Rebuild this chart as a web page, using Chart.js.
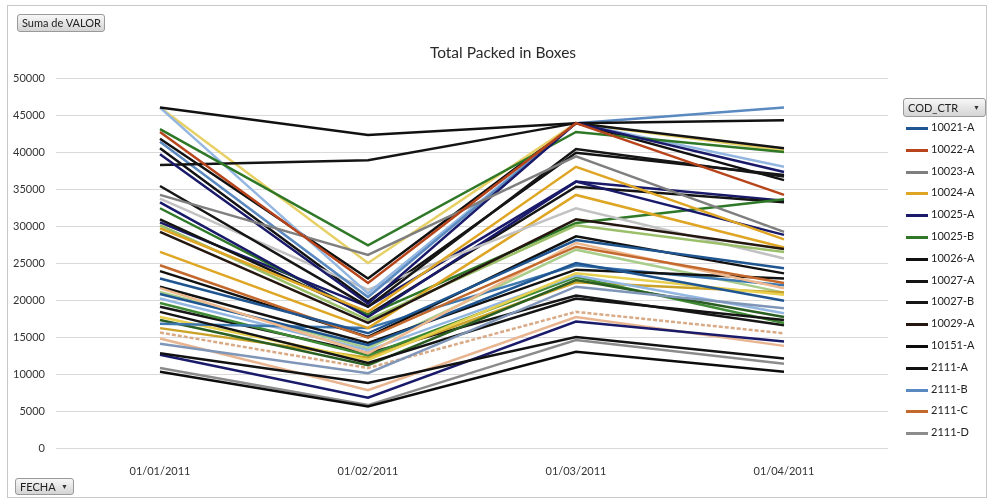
<!DOCTYPE html>
<html>
<head>
<meta charset="utf-8">
<script src="https://cdn.jsdelivr.net/npm/chart.js@4/dist/chart.umd.min.js"></script>
<style>
  html, body { margin: 0; padding: 0; background: #fff; }
  body { width: 988px; height: 503px; position: relative; overflow: hidden; font-family: Lato, "Liberation Sans", sans-serif; }
  #frame { position: absolute; left: 7px; top: 5px; width: 980px; height: 493px; border: 1px solid #c8c8c8; box-sizing: border-box; }
  #wrap { position: absolute; left: 0; top: 0; width: 988px; height: 503px; }
  .btn { position: absolute; box-sizing: border-box; border: 1px solid #9a9a9a; border-radius: 3px;
         background: linear-gradient(#f7f7f7, #d4d4d4); font-size: 11px; color: #222; line-height: 16px; padding-left: 4px; }
  .btn .arr { position: absolute; right: 5px; top: 0; font-size: 7px; color: #333; }
  #title { position: absolute; left: 0; width: 1006px; top: 43px; text-align: center; font-size: 15.5px; color: #2a2a2a; }
  #legend { position: absolute; left: 906px; top: 118px; }
  .item { position: absolute; left: 0; height: 20px; white-space: nowrap; font-size: 11px; color: #222; }
  .item .sw { position: absolute; left: 0; top: 9px; width: 22px; height: 3px; }
  .item .tx { position: absolute; left: 25px; top: 2px; }
</style>
</head>
<body>
<div id="frame"></div>
<div id="wrap"><canvas id="c" width="988" height="503"></canvas></div>
<div class="btn" style="left:17px;top:14px;width:88px;height:18px;">Suma de VALOR</div>
<div id="title">Total Packed in Boxes</div>
<div class="btn" style="left:903px;top:98px;width:83px;height:19px;line-height:17px;">COD_CTR<span class="arr">&#9660;</span></div>
<div class="btn" style="left:15px;top:478px;width:59px;height:17px;line-height:15px;">FECHA<span class="arr">&#9660;</span></div>
<div id="legend"></div>
<script>
// Months on the category axis
const fechas = ['01/01/2011', '01/02/2011', '01/03/2011', '01/04/2011'];

// Value axis ticks
const yTicks = [0, 5000, 10000, 15000, 20000, 25000, 30000, 35000, 40000, 45000, 50000];

// Container codes (series names)
const codigos = [
  '10021-A', '10022-A', '10023-A', '10024-A', '10025-A', '10025-B', '10026-A', '10027-A',
  '10027-B', '10029-A', '10151-A', '2111-A', '2111-B', '2111-C', '2111-D', '2111-E',
  '2112-A', '2112-B', '2112-C', '2113-A', '2113-B', '2114-A', '2114-B', '2115-A',
  '2115-B', '2116-A', '2116-B', '2117-A', '2117-B', '2118-A', '2118-B', '2119-A',
  '2119-B', '2120-A', '2120-B', '2121-A', '2121-B', '2122-A', '2122-B', '2123-A',
  '2123-B', '2124-A', '2124-B'
];

// Sum of VALOR per container, one value per month (Jan, Feb, Mar, Apr)
const v10021A = [22900, 15500, 28100, 24300];
const v10022A = [42700, 22300, 43900, 34200];
const v10023A = [34200, 26100, 39400, 29200];
const v10024A = [29700, 18400, 38000, 28200];
const v10025A = [39700, 19500, 43900, 37300];
const v10025B = [43100, 27400, 42700, 40000];
const v10026A = [46000, 42300, 43900, 44300];
const v10027A = [38250, 38900, 43900, 40500];
const v10027B = [35400, 19100, 40400, 36700];
const v10029A = [29200, 16900, 30900, 26900];
const v10151A = [10300, 5600, 13000, 10300];
const v2111A = [12800, 8800, 15000, 12100];
const v2111B = [41400, 20400, 43900, 46000];
const v2111C = [24700, 14900, 27200, 22300];
const v2111D = [10800, 5800, 14600, 11400];
const v2111E = [46000, 20900, 43900, 38000];
const v2112A = [30100, 17300, 30100, 26500];
const v2112B = [21600, 12800, 27700, 21600];
const v2112C = [33700, 21400, 32400, 25600];
const v2113A = [46000, 25000, 43900, 40200];
const v2113B = [20800, 13900, 25000, 19900];
const v2114A = [12600, 6800, 17100, 14400];
const v2114B = [14100, 10100, 21800, 18900];
const v2115A = [26500, 16200, 34200, 27100];
const v2115B = [33200, 17700, 36000, 28800];
const v2116A = [32400, 18000, 30400, 33600];
const v2116B = [41800, 22900, 43900, 36200];
const v2117A = [40500, 19800, 39900, 36900];
const v2117B = [30900, 18000, 35300, 33200];
const v2118A = [23900, 15000, 28600, 23600];
const v2118B = [21800, 14200, 24100, 22900];
const v2119A = [18400, 11500, 20200, 17300];
const v2119B = [16800, 16200, 24700, 22000];
const v2120A = [15600, 10800, 18400, 15500];
const v2120B = [14800, 7800, 17700, 13800];
const v2121A = [17700, 11900, 23600, 20700];
const v2121B = [17300, 11200, 22700, 17700];
const v2122A = [20200, 13200, 23300, 18200];
const v2122B = [19600, 12500, 23100, 16900];
const v2123A = [16200, 12200, 22400, 21000];
const v2123B = [21100, 13500, 26800, 21000];
const v2124A = [19100, 12800, 20600, 16600];
const v2124B = [30500, 19100, 36000, 33400];

const valores = [
  v10021A, v10022A, v10023A, v10024A, v10025A, v10025B, v10026A, v10027A,
  v10027B, v10029A, v10151A, v2111A, v2111B, v2111C, v2111D, v2111E,
  v2112A, v2112B, v2112C, v2113A, v2113B, v2114A, v2114B, v2115A,
  v2115B, v2116A, v2116B, v2117A, v2117B, v2118A, v2118B, v2119A,
  v2119B, v2120A, v2120B, v2121A, v2121B, v2122A, v2122B, v2123A,
  v2123B, v2124A, v2124B
];

// Line colours, in series order
const colores = [
  '#1f5591', '#b8441c', '#7f7f7f', '#dfa524', '#1a1a6b', '#2e7827', '#111111', '#141414',
  '#161616', '#241710', '#0c0c0c', '#121212', '#5b8ac0', '#c4692d', '#8c8c8c', '#93b7e0',
  '#9cc06a', '#efb98f', '#c2c2c2', '#e7d066', '#1f5591', '#1a1a6b', '#7f96b8', '#dfa524',
  '#1a1a6b', '#2e7827', '#111111', '#131313', '#151515', '#111111', '#121212', '#141414',
  '#3d78b0', '#d9aa86', '#e8b590', '#e7cf4f', '#2b5e22', '#93b7e0', '#3f8a34', '#c9a227',
  '#a9cd8a', '#171717', '#1a1a6b'
];

// Series drawn with a broken stroke
const dashed = ['2120-A'];

const datasets = codigos.map((name, i) => ({
  label: name,
  data: valores[i],
  borderColor: colores[i],
  backgroundColor: colores[i],
  borderWidth: 2.5,
  borderDash: dashed.includes(name) ? [4, 2] : [],
  pointRadius: 0,
  tension: 0,
  fill: false
}));

const chart = new Chart(document.getElementById('c'), {
  type: 'line',
  data: { labels: fechas, datasets: datasets },
  options: {
    responsive: false,
    animation: false,
    layout: { padding: { left: 0, right: 100, top: 78, bottom: 0 } },
    plugins: { legend: { display: false }, tooltip: { enabled: false }, title: { display: false } },
    scales: {
      x: {
        offset: true,
        grid: { display: false },
        border: { display: false },
        ticks: { color: '#333', font: { family: 'Lato', size: 11 }, padding: 9 },
        afterFit: (s) => { s.height = 55; }
      },
      y: {
        min: 0,
        max: 50000,
        afterBuildTicks: (s) => { s.ticks = yTicks.map(v => ({ value: v })); },
        grid: { color: '#d9d9d9', lineWidth: 1, drawTicks: false },
        border: { display: false },
        ticks: { color: '#333', font: { family: 'Lato', size: 11 }, padding: 11, callback: (v) => String(v) },
        afterFit: (s) => { s.width = 56; }
      }
    }
  }
});

// Legend for the first entries of the field list
const legend = document.getElementById('legend');
chart.data.datasets.slice(0, 15).forEach((ds, i) => {
  const it = document.createElement('div');
  it.className = 'item';
  it.style.top = (i * 21.8) + 'px';
  it.innerHTML = '<span class="sw" style="background:' + ds.borderColor + '"></span><span class="tx">' + ds.label + '</span>';
  legend.appendChild(it);
});
</script>
</body>
</html>
